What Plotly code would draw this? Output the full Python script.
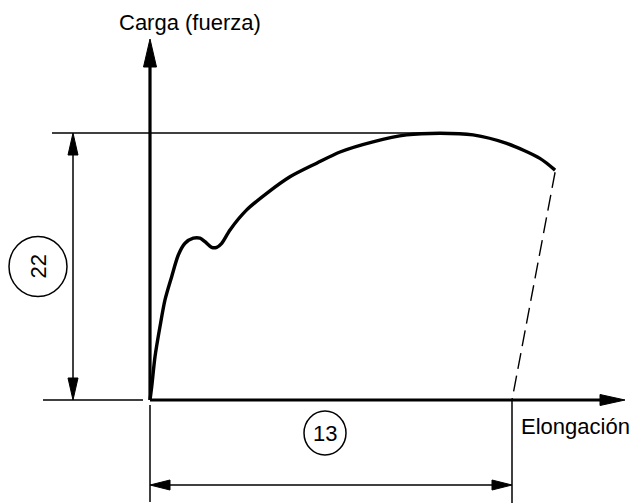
import plotly.graph_objects as go

# ---------------- data (arbitrary units: fracture elongation = 100, max load = 100)
elongation = [0, 0.47, 1.38, 2.76, 4.14, 5.99, 7.82, 9.67, 11.96, 13.81, 15.19, 17.04,
              18.43, 19.81, 22.10, 26.71, 32.24, 38.67, 46.05, 52.49, 61.6, 70.91,
              80.11, 89.23, 98.54, 107.7, 111.9]
load = [0, 4.98, 16.2, 27.5, 37.5, 46.2, 54.3, 58.7, 60.6, 60.6, 59.3, 57.2,
        57.2, 58.7, 63.7, 71.2, 77.4, 83.6, 88.7, 92.9, 96.7, 99.3,
        99.9, 99.3, 96.1, 90.5, 86.1]
fracture_elongation = 100
max_load = 100
peak_elongation = 80.11
callout_load = "22"
callout_elong = "13"
x_title = "Elongación"
y_title = "Carga (fuerza)"

# ---------------- scale (pixels per data unit) and view
SX, SY = 3.62, 2.67
X_RANGE = [-150 / SX, (632 - 150) / SX]
Y_RANGE = [-(504 - 400) / SY, 400 / SY]
x_axis_end = 475 / SX
y_axis_end = 361 / SY

FONT = "Liberation Sans, Arial, sans-serif"
fig = go.Figure()


def line(xs, ys, width, dash=None):
    fig.add_trace(go.Scatter(x=xs, y=ys, mode="lines",
                             line=dict(color="black", width=width, dash=dash),
                             hoverinfo="skip", showlegend=False))


def arrowhead(tx, ty, ux, uy, L, W):
    # tip at data (tx,ty), direction (ux,uy) in screen space (y up), sizes in px
    bx, by = -L * ux, -L * uy
    px, py = -uy, ux
    pts = [(0, 0), (bx + px * W / 2, by + py * W / 2), (bx - px * W / 2, by - py * W / 2), (0, 0)]
    fig.add_trace(go.Scatter(x=[tx + p[0] / SX for p in pts], y=[ty + p[1] / SY for p in pts],
                             mode="lines", fill="toself", fillcolor="black",
                             line=dict(color="black", width=1),
                             hoverinfo="skip", showlegend=False))


# axes
line([0, 0], [0, y_axis_end - 20 / SY], 3.2)
arrowhead(0, y_axis_end, 0, 1, 28, 13)
line([0, x_axis_end - 20 / SX], [0, 0], 3.2)
arrowhead(x_axis_end, 0, 1, 0, 25, 11)

# curve
fig.add_trace(go.Scatter(x=elongation, y=load, mode="lines",
                         line=dict(color="black", width=3.4, shape="spline", smoothing=0.8),
                         hoverinfo="skip", showlegend=False))
# unloading (dashed) line
line([elongation[-1], fracture_elongation], [load[-1] - 0.8, 0], 1.4, dash="16px,7px")

# vertical dimension (load)
dim_x = -77 / SX
line([-98 / SX, peak_elongation], [max_load, max_load], 1.5)
line([-107 / SX, -7 / SX], [0, 0], 1.5)
line([dim_x, dim_x], [20 / SY, max_load - 20 / SY], 1.5)
arrowhead(dim_x, max_load, 0, 1, 22, 10)
arrowhead(dim_x, 0, 0, -1, 22, 10)

# horizontal dimension (elongation)
dim_y = -85 / SY
line([0, 0], [-5 / SY, -102 / SY], 1.5)
line([fracture_elongation, fracture_elongation], [0, -103 / SY], 1.5)
line([20 / SX, fracture_elongation - 20 / SX], [dim_y, dim_y], 1.5)
arrowhead(0, dim_y, -1, 0, 20, 10)
arrowhead(fracture_elongation, dim_y, 1, 0, 20, 10)

# callout circles
c22 = dict(xa=dim_x, ya=max_load / 2, dx=-35, dy=0, rx=29, ry=30)
c13 = dict(xa=fracture_elongation / 2, ya=0, dx=-6, dy=-33, rx=21, ry=22)
for c in (c22, c13):
    fig.add_shape(type="circle", xref="x", yref="y", xsizemode="pixel", ysizemode="pixel",
                  xanchor=c["xa"], yanchor=c["ya"],
                  x0=c["dx"] - c["rx"], x1=c["dx"] + c["rx"],
                  y0=c["dy"] - c["ry"], y1=c["dy"] + c["ry"],
                  line=dict(color="black", width=1.5), fillcolor="rgba(0,0,0,0)")

fig.add_annotation(x=c22["xa"], y=c22["ya"], xshift=c22["dx"], yshift=c22["dy"],
                   text=callout_load, textangle=-90, showarrow=False,
                   font=dict(family=FONT, size=22, color="black"))
fig.add_annotation(x=c13["xa"], y=c13["ya"], xshift=c13["dx"], yshift=c13["dy"],
                   text=callout_elong, showarrow=False,
                   font=dict(family=FONT, size=22, color="black"))

# axis titles
fig.add_annotation(x=0, y=y_axis_end, xshift=40, yshift=17, text=y_title, showarrow=False,
                   xanchor="center", yanchor="middle",
                   font=dict(family=FONT, size=22, color="black"))
fig.add_annotation(x=fracture_elongation, y=0, xshift=7, yshift=-26, text=x_title,
                   showarrow=False, xanchor="left", yanchor="middle",
                   font=dict(family=FONT, size=22, color="black"))

fig.update_layout(width=632, height=504, margin=dict(l=0, r=0, t=0, b=0),
                  paper_bgcolor="white", plot_bgcolor="white", showlegend=False,
                  hovermode=False)
fig.update_xaxes(range=X_RANGE, visible=False, fixedrange=True)
fig.update_yaxes(range=Y_RANGE, visible=False, fixedrange=True)
fig.write_html("out.html", config={"displayModeBar": False},
               post_script="document.body.style.margin='0';document.body.style.overflow='hidden';")
